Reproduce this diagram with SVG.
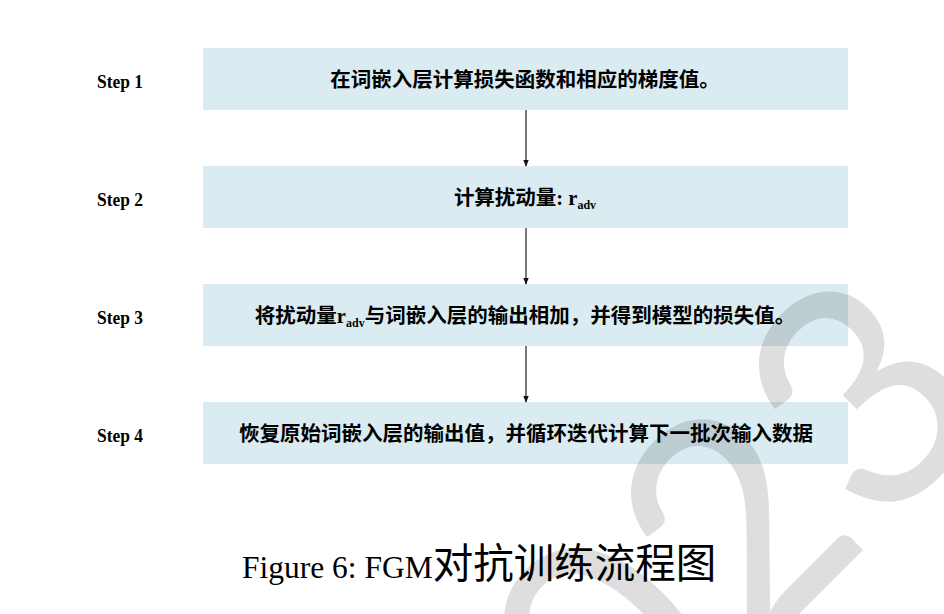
<svg xmlns="http://www.w3.org/2000/svg" width="944" height="614" viewBox="0 0 944 614">
<defs>
<style>
.box{fill:#daecf2;}
.step{font-family:"Liberation Serif",serif;font-weight:bold;font-size:19px;fill:#000;}
.lbl{font-family:"Liberation Serif","Noto Sans CJK SC",sans-serif;font-weight:bold;font-size:20.5px;fill:#000;text-anchor:middle;}
.sub{font-size:12px;}
.conn{stroke:#333;stroke-width:1.3;fill:none;marker-end:url(#ah);}
.cap{font-family:"Liberation Serif","Noto Sans CJK SC",serif;font-size:31.5px;fill:#000;}
.capc{font-family:"Noto Sans CJK SC",sans-serif;font-size:40.5px;}
.wm{font-family:"Lato","DejaVu Sans",sans-serif;font-weight:normal;font-size:310px;fill:#000;fill-opacity:0.13;}
</style>
<marker id="ah" viewBox="0 0 10 10" refX="9" refY="5" markerWidth="7" markerHeight="7" markerUnits="userSpaceOnUse" orient="auto">
<path d="M0,1 L10,5 L0,9 z" fill="#111"/>
</marker>
</defs>
<rect width="944" height="614" fill="#fff"/>
<g id="step1">
<text class="step" x="97" y="88" textLength="46" lengthAdjust="spacingAndGlyphs">Step 1</text>
<rect class="box" x="203" y="48" width="645" height="62"/>
<text class="lbl" x="525" y="87">在词嵌入层计算损失函数和相应的梯度值。</text>
</g>
<g id="step2">
<text class="step" x="97" y="206" textLength="46" lengthAdjust="spacingAndGlyphs">Step 2</text>
<rect class="box" x="203" y="166" width="645" height="62"/>
<text class="lbl" x="525" y="205">计算扰动量: r<tspan class="sub" dy="4">adv</tspan></text>
</g>
<g id="step3">
<text class="step" x="97" y="324" textLength="46" lengthAdjust="spacingAndGlyphs">Step 3</text>
<rect class="box" x="203" y="284" width="645" height="62"/>
<text class="lbl" x="525" y="323">将扰动量r<tspan class="sub" dy="4">adv</tspan><tspan dy="-4">与词嵌入层的输出相加，并得到模型的损失值。</tspan></text>
</g>
<g id="step4">
<text class="step" x="97" y="442" textLength="46" lengthAdjust="spacingAndGlyphs">Step 4</text>
<rect class="box" x="203" y="402" width="645" height="62"/>
<text class="lbl" x="526" y="441">恢复原始词嵌入层的输出值，并循环迭代计算下一批次输入数据</text>
</g>
<g id="connectors">
<line class="conn" x1="526" y1="110" x2="526" y2="166"/>
<line class="conn" x1="526" y1="228" x2="526" y2="284"/>
<line class="conn" x1="526" y1="346" x2="526" y2="402"/>
</g>
<text class="cap" x="242" y="578">Figure 6: FGM<tspan class="capc">对抗训练流程图</tspan></text>
<text class="wm" x="0" y="0" text-anchor="middle" transform="translate(748,665) rotate(-45)">2023</text>
</svg>
